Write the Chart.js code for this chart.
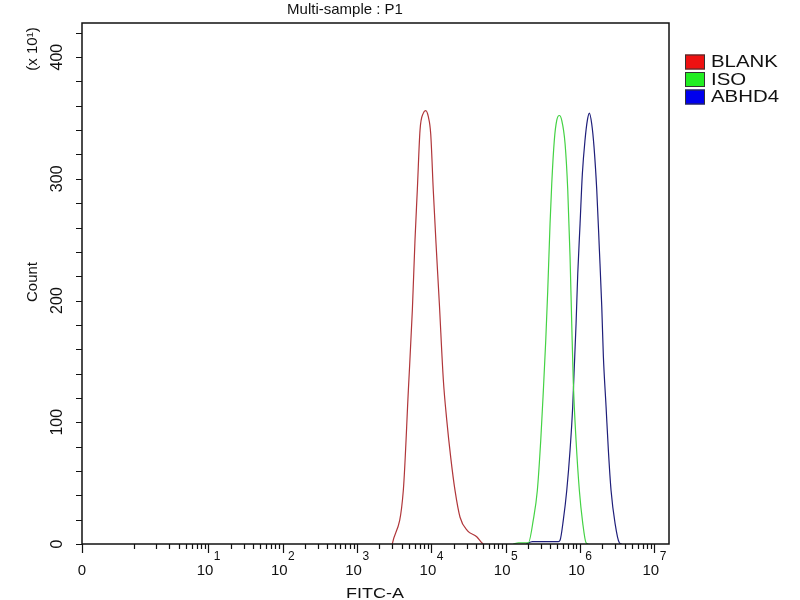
<!DOCTYPE html>
<html>
<head>
<meta charset="utf-8">
<script src="https://cdn.jsdelivr.net/npm/chart.js@4.4.1/dist/chart.umd.min.js"></script>
<style>
  html, body { margin: 0; padding: 0; background: #fff; }
  #wrap { width: 800px; height: 600px; }
</style>
</head>
<body>
<div id="wrap"><canvas id="histo" width="800" height="600"></canvas></div>
<script>
// FITC-A overlay histogram (count axis in x10^1)
const blankX = [2990, 4210, 4920, 5570, 6050, 6500, 7070, 7830, 8430, 9140, 9840, 10670, 11600, 12850, 14550, 16170, 18310, 20900, 24420, 30630, 40960, 47840, 50000];
const blankY = [0, 44, 126, 192, 250, 291, 340, 354, 356, 351, 337, 290, 247, 198, 135, 102, 71, 44, 22, 11, 6, 1, 0];

const isoX = [127000, 150000, 202700, 236700, 267900, 297700, 322800, 347600, 369800, 397300, 418800, 453900, 488800, 529800, 570900, 632600, 687600, 738400, 778000, 817800, 889700, 985600, 1095000, 1212000, 1302000];
const isoY = [0, 1, 1, 20, 44, 85, 126, 167, 208, 263, 296, 332, 348, 352, 348, 329, 291, 236, 181, 132, 85, 44, 17, 1, 0];

const abhdX = [190000, 230000, 400000, 514500, 541600, 600300, 666600, 738400, 802000, 835500, 889700, 937600, 1007000, 1081000, 1175000, 1262000, 1343000, 1446000, 1553000, 1689000, 1832000, 1973000, 2074000, 2254000, 2421000, 2632000, 2979000, 3404000, 3664000];
const abhdY = [0, 2, 2, 2, 3, 20, 44, 77, 113, 140, 181, 222, 263, 304, 332, 348, 354, 345, 326, 291, 242, 195, 154, 113, 77, 44, 17, 1, 0];

const seriesNames = ['BLANK', 'ISO', 'ABHD4'];
const lineColors = ['#b0363a', '#44d244', '#1e1e7a'];
const legendColors = ['#ee1111', '#22ee22', '#0000ee'];

// axis ticks
const xMajorTicks = [0, 1e1, 1e2, 1e3, 1e4, 1e5, 1e6, 1e7];
const xTickExp = [null, 1, 2, 3, 4, 5, 6, 7];
const yLabelTicks = [0, 100, 200, 300, 400];
const yMinorStep = 20;
const yMax = 428;
const xMax = 1.585e7;

// 0 sits 0.7 decade left of 10^0, linear between 0 and 1
const ZERO_POS = -0.70;
function toDecade(v) {
    return v >= 1 ? Math.log10(v) : ZERO_POS * (1 - v);
}
function fromDecade(p) {
    return p >= 0 ? Math.pow(10, p) : 1 - p / ZERO_POS;
}

class BiexScale extends Chart.LinearScale {
    determineDataLimits() {
        this.min = toDecade(this.options.min);
        this.max = toDecade(this.options.max);
    }
    buildTicks() {
        return xMajorTicks.map(v => ({ value: v }));
    }
    getPixelForValue(v) {
        return super.getPixelForValue(toDecade(v));
    }
    getValueForPixel(px) {
        return fromDecade(super.getValueForPixel(px));
    }
}
BiexScale.id = 'biex';
BiexScale.defaults = {};
Chart.register(BiexScale);

const FONT = '"Liberation Sans", Arial, sans-serif';

function drawText(ctx, text, x, y, size, align, sx, rot) {
    ctx.save();
    ctx.translate(x, y);
    if (rot) ctx.rotate(rot);
    ctx.scale(sx || 1, 1);
    ctx.font = size + 'px ' + FONT;
    ctx.textAlign = align || 'center';
    ctx.textBaseline = 'middle';
    ctx.fillStyle = '#111';
    ctx.fillText(text, 0, 0);
    ctx.restore();
}

// frame, ticks, labels and legend in the cytometer style
const decorPlugin = {
    id: 'decor',
    afterDraw(chart) {
        const ctx = chart.ctx;
        const area = chart.chartArea;
        const xs = chart.scales.x;
        const ys = chart.scales.y;

        ctx.save();
        ctx.strokeStyle = '#111';
        ctx.lineWidth = 1.5;
        ctx.strokeRect(area.left, area.top, area.right - area.left, area.bottom - area.top);

        // x ticks: majors and k*10^n minors
        ctx.lineWidth = 1.2;
        ctx.beginPath();
        xMajorTicks.forEach(v => {
            const px = Math.round(xs.getPixelForValue(v)) + 0.5;
            ctx.moveTo(px, area.bottom);
            ctx.lineTo(px, area.bottom + 9);
        });
        for (let n = 0; n < 7; n++) {
            for (let k = (n === 0 ? 1 : 2); k <= 9; k++) {
                const px = Math.round(xs.getPixelForValue(k * Math.pow(10, n))) + 0.5;
                ctx.moveTo(px, area.bottom);
                ctx.lineTo(px, area.bottom + 5);
            }
        }
        // y ticks every 20
        for (let v = 0; v <= yMax; v += yMinorStep) {
            const py = Math.round(ys.getPixelForValue(v)) + 0.5;
            ctx.moveTo(area.left, py);
            ctx.lineTo(area.left - 6, py);
        }
        ctx.stroke();
        ctx.restore();

        // x tick labels, 10 with raised exponent
        xMajorTicks.forEach((v, i) => {
            const px = xs.getPixelForValue(v);
            if (xTickExp[i] === null) {
                drawText(ctx, '0', px, 571, 15);
                return;
            }
            ctx.font = '15px ' + FONT;
            const w1 = ctx.measureText('10').width;
            ctx.font = '12px ' + FONT;
            const w2 = ctx.measureText(String(xTickExp[i])).width;
            const start = px - (w1 + w2) / 2;
            drawText(ctx, '10', start, 571, 15, 'left');
            drawText(ctx, String(xTickExp[i]), start + w1 + 0.5, 557, 12, 'left');
        });

        // y tick labels, rotated
        yLabelTicks.forEach(v => {
            drawText(ctx, String(v), 58, ys.getPixelForValue(v), 16, 'center', 1, -Math.PI / 2);
        });

        drawText(ctx, 'Multi-sample : P1', 345, 10, 15);
        drawText(ctx, 'FITC-A', 375, 594, 15, 'center', 1.2);
        drawText(ctx, 'Count', 33, 282, 15, 'center', 1, -Math.PI / 2);
        drawText(ctx, '(x 10\u00b9)', 33, 49, 15, 'center', 1, -Math.PI / 2);

        // legend
        chart.data.datasets.forEach((ds, i) => {
            const top = 54.5 + i * 17.5;
            ctx.save();
            ctx.fillStyle = legendColors[i];
            ctx.strokeStyle = '#333';
            ctx.lineWidth = 1;
            ctx.fillRect(685, top, 20, 15);
            ctx.strokeRect(685.5, top + 0.5, 19, 14);
            ctx.restore();
            drawText(ctx, ds.label, 711, top + 8, 17, 'left', 1.2);
        });
    }
};

function toPoints(xArr, yArr) {
    return xArr.map((x, i) => ({ x: x, y: yArr[i] }));
}

const histoChart = new Chart(document.getElementById('histo'), {
    type: 'line',
    data: {
        datasets: [
            { label: seriesNames[0], data: toPoints(blankX, blankY), borderColor: lineColors[0] },
            { label: seriesNames[1], data: toPoints(isoX, isoY), borderColor: lineColors[1] },
            { label: seriesNames[2], data: toPoints(abhdX, abhdY), borderColor: lineColors[2] }
        ]
    },
    options: {
        responsive: false,
        animation: false,
        devicePixelRatio: 1,
        layout: { padding: { left: 82, right: 131, top: 23, bottom: 56 } },
        elements: {
            line: { borderWidth: 1.2, cubicInterpolationMode: 'monotone', fill: false },
            point: { radius: 0, hoverRadius: 0 }
        },
        plugins: {
            legend: { display: false },
            tooltip: { enabled: false }
        },
        scales: {
            x: { type: 'biex', display: false, min: 0, max: xMax },
            y: { type: 'linear', display: false, min: 0, max: yMax }
        }
    },
    plugins: [decorPlugin]
});
</script>
</body>
</html>
